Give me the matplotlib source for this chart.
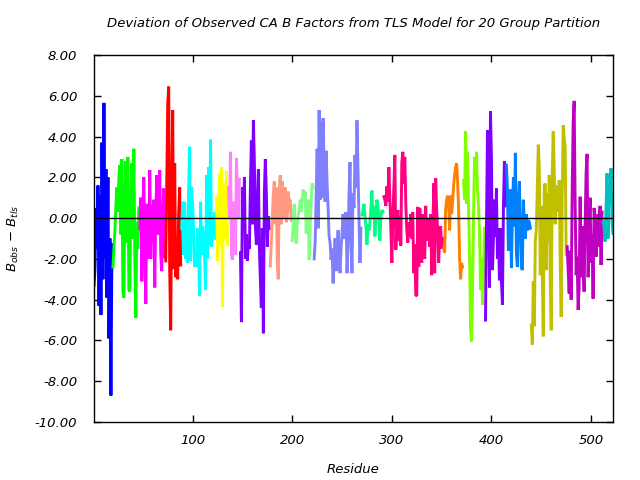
import matplotlib
matplotlib.use("Agg")
import matplotlib.pyplot as plt
import numpy as np

# deviation per residue, one list per TLS group (in residue order, starting at residue 1)
blue = [-3.3, -2.5, 0.5, -1.5, 1.6, -4.3, 1.1, -4.75, 3.7, -3.0, 5.65, -2.0, 2.4, -3.9, 2.0, -5.9, -1.0, -8.7, -1.3]
green = [-2.4, -1.5, -0.6, 0.6, 1.5, 0.3, 2.0, 2.6, -0.8, 2.9, -3.6, -3.9, 1.3, 2.8, -1.2, 3.0, -3.5, -3.6, 1.0, 2.7,
         -1.0, 3.4, -2.0, -4.9, -0.2, -1.5, 0.5]
magenta = [-0.5, 1.0, -3.1, 0.4, 2.0, -1.5, -4.2, 0.7, -0.5, -2.0, 2.35, -2.0, 0.6, -1.2, 0.9, -3.4, 0.2, 2.1, -0.8,
           1.0, 2.35, -1.8, -2.6, 0.3, 1.45, -1.9]
red = [-2.1, 1.45, 5.6, 6.45, -2.5, -5.5, 1.0, 5.3, -2.5, 2.7, -2.9, -1.3, -3.0, 0.2, 1.5, -2.3]
cyan = [-0.5, 0.8, -1.8, 0.8, -2.0, 0.0, -2.2, 1.5, 3.5, -2.1, 1.5, 0.7, -0.6, -2.4, -1.5, -2.4, -0.5, -1.6, -3.8,
        0.8, -1.8, -0.4, -1.2, -2.0, -3.5, 2.1, -2.0, 2.5, -1.3, 3.85, -1.4, -0.8, -0.6, 0.3, -1.0]
yellow = [1.0, -2.1, 0.2, 2.2, -1.3, 2.5, -4.35, 1.7, -1.0, 0.6, 2.3, -1.3]
pink = [1.5, 0.0, 3.25, -1.8, -2.05, 0.8, -1.0, -1.8, 2.95, 1.2, 0.0, 1.9]
purple = [-1.7, -5.1, 1.5, -0.5, 2.0, -2.0, -0.8, -2.1, -1.2, -1.5, 1.5, 3.8, -0.3, 4.8, 2.7, -0.4, -1.3, 0.5, 2.4,
          -1.5, -3.0, -4.4, -0.5, -5.65, 1.2, 2.9, 1.2, -1.4, 0.1, -0.5]
salmon = [-2.35, -1.2, 0.0, 1.2, 1.8, -0.3, 1.5, -2.2, -3.0, 1.4, 2.1, -0.3, 1.8, 0.0, 1.0, 1.5, -0.2, 0.0, 1.3, 0.8,
          0.9, -0.1]
lgreen = [-1.1, -0.2, 0.7, -0.9, -1.25, -0.3, 0.2, 0.4, 0.9, 0.3, 1.0, 1.4, 0.8, 1.3, -0.75, 0.2, 0.9, -2.05, -0.5,
          0.9, 1.7, 1.5]
lavender = [-2.0, -1.2, 1.05, 3.4, -0.5, 5.3, 0.9, 4.7, 1.0, 4.9, 2.5, 0.8, 3.3, 1.7, 0.5, -0.9, -1.2, -2.05, -1.5,
            -3.2, -2.2, -1.0, -2.6, -1.8, -0.6, -2.0, -2.7, -1.5, -0.8, 0.2, -1.0, -0.9, 0.3, -2.7, -1.5, 1.2, 2.75,
            -1.0, -2.7, 1.2, 0.5, 3.1, 1.5, 4.8, 2.4, 0.0, -2.2, -0.5]
spring = [0.15, 0.4, 0.7, 0.1, -0.4, -1.3, -0.3, -0.6, -0.2, 0.5, 1.35, 0.0, 0.6, -0.9, 0.2, 0.9, 0.6, -0.2, -1.1,
          0.1, 0.4, 0.3]
deeppink = [1.05, 0.9, 0.6, 1.55, 0.8, 2.5, 1.0, -0.5, -2.2, 0.0, 1.5, 3.1, -1.55, -0.2, 0.4, -1.1, 0.1, -1.35, 2.7,
            3.25, 1.7, 3.0, 0.7, -0.6, -1.2, -0.2, -0.9, 0.2, -1.0, 0.3, -2.7, -1.3, -3.8, -3.8, 0.55, -2.4, 0.5,
            -0.4, -2.2, 0.2, -1.0, -2.0, 0.6, -1.1, -0.2, 0.0, -1.4, 0.2, -2.8, -1.2, 1.7, -2.7, 1.95, 0.4, -0.6,
            -2.2, -0.6, -0.4, -1.5, -1.0]
orange = [-1.5, -1.7, 0.4, 0.9, 1.1, 0.8, -0.6, 1.1, 0.2, 0.8, 1.6, 2.1, 2.5, 2.7, 1.8, 0.5, -1.9, -3.0, -2.2, -2.4]
chartreuse = [1.85, 0.9, 4.25, 0.7, 3.25, 0.5, -1.9, -5.4, -6.05, -3.5, 0.2, 3.0, 2.1, 3.25, 1.3, 0.6, -0.7, -3.5,
              -2.0, -4.25, -2.5, -0.5]
violet = [-5.0, -0.3, 4.3, 3.3, -3.4, 5.25, 2.85, -2.55, -1.0, 0.9, -0.9, 1.45, -2.0, -0.5, -3.05, -0.5, -3.05,
          -4.25, 0.5, 2.8, 0.6]
dodger = [2.6, 1.5, -1.6, 0.2, 1.4, -2.45, 0.0, 2.0, -0.4, 3.2, -1.7, -2.4, 0.8, 1.8, -0.5, -2.4, -2.55, 0.9, -0.2,
          -1.0, 0.2, -0.6, -0.1, -0.2, -0.5]
olive = [-5.25, -6.2, -3.1, -5.3, -1.15, -0.6, 1.45, 3.6, 2.5, -2.8, 0.6, -2.7, -5.8, 1.6, 1.7, -2.55, 1.2, -1.2,
         2.1, -3.1, -5.5, 2.2, 4.25, 2.35, -0.3, 1.6, 0.5, 0.3, 1.85, -2.2, -4.85, 0.9, 4.55, 3.9, 3.5, -1.8]
magenta2 = [-1.4, -2.55, -3.7, -1.6, -4.0, 1.2, 4.65, 5.75, 0.7, -2.8, -1.9, -4.5, -3.4, 1.05, -2.9, -0.4, -2.4,
            -3.6, -0.4, 2.25, 3.15, -2.9, -0.7, 1.0, -2.2, -0.8, -3.95, 0.5, 0.0, -1.9, 0.2, -1.4, -0.6, 0.6, -2.3, 0.3]
teal = [-0.2, -0.4, -1.15, 0.5, 2.2, -1.0, 1.7, 0.8, 2.45, -0.2, -0.75]

groups = [blue, green, magenta, red, cyan, yellow, pink, purple, salmon, lgreen, lavender,
          spring, deeppink, orange, chartreuse, violet, dodger, olive, magenta2, teal]
colors = ['#0000ff', '#00ff00', '#ff00ff', '#ff0000', '#00ffff', '#ffff00', '#ff80ff', '#8000ff',
          '#ff9980', '#80ff80', '#8080ff', '#00ff80', '#ff0080', '#ff8000', '#80ff00', '#8000ff',
          '#0080ff', '#c0c000', '#c000c0', '#00c0c0']

plt.rcParams['font.family'] = ['DejaVu Sans']

fig = plt.figure(figsize=(6.4, 4.8), dpi=100)
ax = fig.add_axes([94 / 640, 58 / 480, 519 / 640, 367 / 480])

start = 1
for vals, col in zip(groups, colors):
    res = np.arange(start, start + len(vals))
    ax.plot(res, vals, color=col, lw=2.1, solid_joinstyle='bevel')
    start += len(vals)
last = start - 1

ax.axhline(0, color='black', lw=1, zorder=5)

ax.set_xlim(1, last)
ax.set_ylim(-10, 8)
ax.set_xticks([100, 200, 300, 400, 500])
ax.set_yticks(np.arange(-10, 8.1, 2))
ax.set_yticklabels(['%.2f' % v for v in np.arange(-10, 8.1, 2)])
ax.tick_params(direction='in', length=5, width=1, top=True, right=True, labelsize=9.5)
ax.tick_params(axis='y', pad=12)
ax.tick_params(axis='x', pad=9)
for lab in ax.get_xticklabels() + ax.get_yticklabels():
    lab.set_fontstyle('italic')
for sp in ax.spines.values():
    sp.set_linewidth(1)

ax.set_title('Deviation of Observed CA B Factors from TLS Model for 20 Group Partition',
             fontsize=9.5, style='italic', pad=20)
ax.set_xlabel('Residue', fontsize=9.5, style='italic', labelpad=11)
ax.set_ylabel(r'$B_{obs}$ $-$ $B_{tls}$', fontsize=9.5, labelpad=10)

fig.savefig('out.png', dpi=100)
